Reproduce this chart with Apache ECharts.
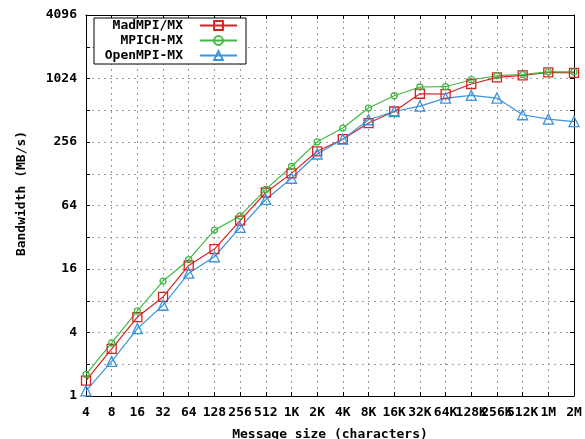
<!DOCTYPE html>
<html>
<head>
<meta charset="utf-8">
<script src="https://cdn.jsdelivr.net/npm/echarts@6/dist/echarts.min.js"></script>
<style>
  html, body { margin: 0; padding: 0; background: #fff; }
  #chart { width: 585px; height: 439px; }
</style>
</head>
<body>
<div id="chart"></div>
<script>
// message sizes on the x axis
var sizes = ['4', '8', '16', '32', '64', '128', '256', '512', '1K', '2K', '4K', '8K',
  '16K', '32K', '64K', '128K', '256K', '512K', '1M', '2M'];
// y ticks that get a label (gridlines are at every power of 2)
var yTickLabels = ['1', '4', '16', '64', '256', '1024', '4096'];

// bandwidth in MB/s
var madmpi = [1.40, 2.80, 5.6, 8.7, 17.3, 24.7, 46, 85, 129, 209, 272, 387,
  498, 734, 729, 908, 1049, 1096, 1171, 1160];
var mpich = [1.60, 3.19, 6.4, 12.3, 19.6, 37.4, 51, 91, 150, 257, 347, 537,
  703, 851, 856, 997, 1088, 1113, 1181, 1181];
var openmpi = [1.12, 2.13, 4.35, 7.25, 14.6, 20.9, 39.7, 73, 116, 197, 272, 416,
  498, 561, 668, 707, 668, 464, 422, 400];

var FONT = 'DejaVu Sans Mono';
var colRed = '#d42424';
var colGreen = '#44b844';
var colBlue = '#3a94e0';

function mkSeries(name, data, color, symbol, size) {
  return {
    name: name,
    type: 'line',
    data: data,
    symbol: symbol,
    symbolSize: size,
    showAllSymbol: true,
    lineStyle: { color: color, width: 1.2 },
    itemStyle: { color: 'rgba(255,255,255,0)', borderColor: color, borderWidth: 1.3 },
    emphasis: { disabled: true },
    animation: false
  };
}

var chart = echarts.init(document.getElementById('chart'), null, { renderer: 'canvas' });
var gridLine = { show: true, lineStyle: { color: '#9a9a9a', type: [2, 4], width: 1 } };

chart.setOption({
  backgroundColor: '#fff',
  animation: false,
  grid: { left: 86, right: 11, top: 15, bottom: 43, show: false, outerBoundsMode: 'none', containLabel: false },
  legend: {
    orient: 'vertical',
    left: 94,
    top: 18,
    align: 'right',
    backgroundColor: '#fff',
    borderColor: '#000',
    borderWidth: 1,
    borderRadius: 0,
    padding: [1, 8, 2, 7],
    itemGap: 2,
    itemWidth: 37,
    itemHeight: 11,
    textStyle: {
      fontFamily: FONT, fontWeight: 'bold', fontSize: 13, color: '#000',
      lineHeight: 13, width: 82, align: 'right', padding: [0, 12, 0, 0]
    },
    data: ['MadMPI/MX', 'MPICH-MX', 'OpenMPI-MX']
  },
  xAxis: [{
    type: 'category',
    data: sizes,
    boundaryGap: false,
    position: 'bottom',
    name: 'Message size (characters)',
    nameLocation: 'middle',
    nameGap: 32,
    nameTextStyle: { fontFamily: FONT, fontWeight: 'bold', fontSize: 13, color: '#000' },
    axisLine: { lineStyle: { color: '#000', width: 1 } },
    axisTick: { inside: true, length: 4, interval: 0, lineStyle: { color: '#000' } },
    axisLabel: {
      interval: 0, margin: 10, color: '#000',
      fontFamily: FONT, fontWeight: 'bold', fontSize: 13
    },
    splitLine: gridLine
  }, {
    type: 'category',
    data: sizes,
    boundaryGap: false,
    position: 'top',
    axisLine: { lineStyle: { color: '#000', width: 1 } },
    axisTick: { inside: true, length: 4, interval: 0, lineStyle: { color: '#000' } },
    axisLabel: { show: false },
    splitLine: { show: false }
  }],
  yAxis: [{
    type: 'log',
    logBase: 2,
    min: 1,
    max: 4096,
    interval: 1,
    splitNumber: 12,
    name: 'Bandwidth (MB/s)',
    nameLocation: 'middle',
    nameGap: 58,
    nameTextStyle: {
      fontFamily: FONT, fontWeight: 'bold', fontSize: 13, color: '#000',
      padding: [0, 0, 0, 24]
    },
    axisLine: { show: true, lineStyle: { color: '#000', width: 1 } },
    axisTick: { show: true, inside: true, length: 4, lineStyle: { color: '#000' } },
    axisLabel: {
      margin: 9, color: '#000',
      fontFamily: FONT, fontWeight: 'bold', fontSize: 13,
      formatter: function (v) {
        var s = String(Math.round(v));
        return yTickLabels.indexOf(s) >= 0 ? s : '';
      }
    },
    splitLine: gridLine
  }, {
    type: 'log',
    logBase: 2,
    min: 1,
    max: 4096,
    interval: 1,
    splitNumber: 12,
    position: 'right',
    axisLine: { show: true, lineStyle: { color: '#000', width: 1 } },
    axisTick: { show: true, inside: true, length: 4, lineStyle: { color: '#000' } },
    axisLabel: { show: false },
    splitLine: { show: false }
  }],
  series: [
    mkSeries('MadMPI/MX', madmpi, colRed, 'rect', 9),
    mkSeries('MPICH-MX', mpich, colGreen, 'circle', 6),
    mkSeries('OpenMPI-MX', openmpi, colBlue, 'triangle', 10)
  ]
});
</script>
</body>
</html>
